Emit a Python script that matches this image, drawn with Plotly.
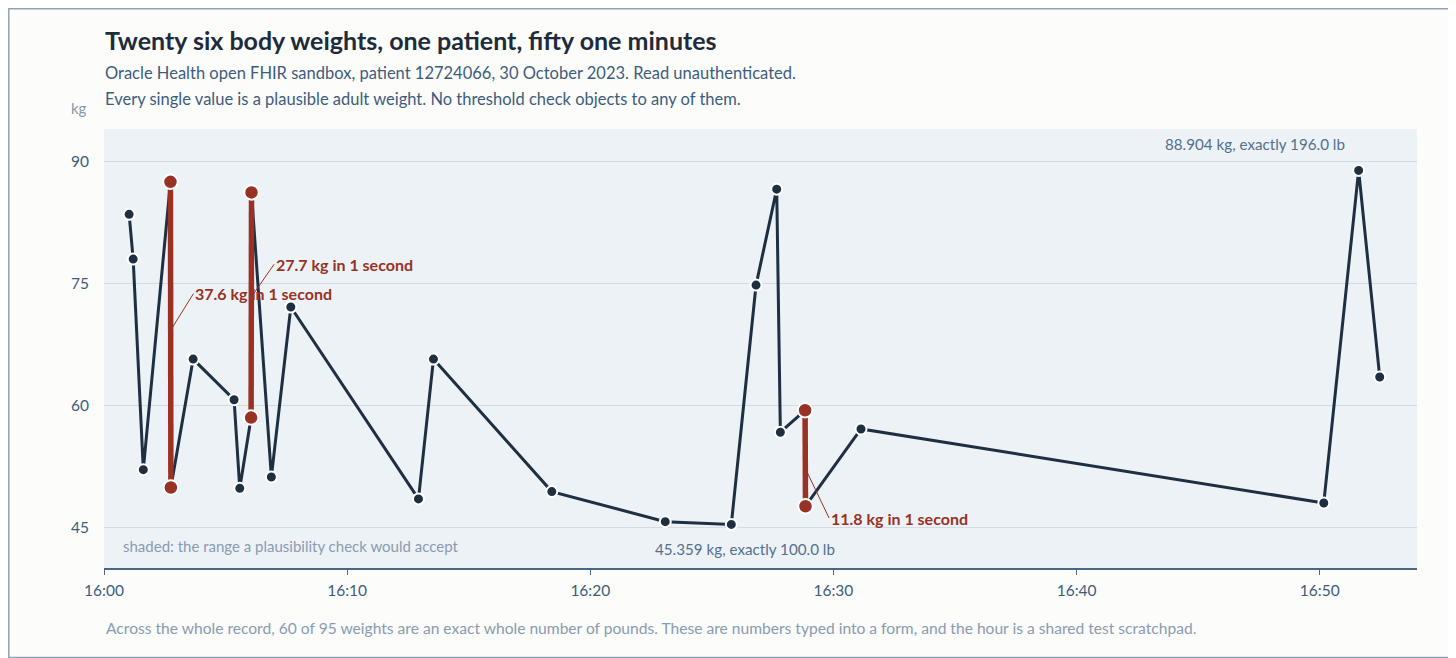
import plotly.graph_objects as go

# ---- DATA ----
day = '2023-10-30'
times = ['16:01:02', '16:01:12', '16:01:37', '16:02:44', '16:02:45', '16:03:40',
         '16:05:21', '16:05:35', '16:06:03', '16:06:04', '16:06:53', '16:07:41',
         '16:12:56', '16:13:33', '16:18:25', '16:23:05', '16:25:48', '16:26:49',
         '16:27:40', '16:27:49', '16:28:50', '16:28:51', '16:31:08', '16:50:10',
         '16:51:36', '16:52:28']
weights_kg = [83.5, 78.0, 52.1, 87.5, 49.9, 65.7,
              60.7, 49.8, 58.5, 86.2, 51.2, 72.1,
              48.5, 65.7, 49.4, 45.7, 45.359, 74.8,
              86.6, 56.7, 59.4, 47.6, 57.1, 48.0,
              88.904, 63.5]
jump_starts = [3, 8, 20]          # index of first reading of each one-second jump
lowest_idx = 16                   # 45.359 kg = 100.0 lb
highest_idx = 24                  # 88.904 kg = 196.0 lb

x_vals = [f'{day} {t}' for t in times]

# ---- STYLE ----
NAVY = '#1f2f42'
RED = '#983224'
BLUE_TXT = '#3d5c7c'
GREY_TXT = '#8798ab'
FONT = 'Lato'

fig = go.Figure()

fig.add_trace(go.Scatter(
    x=x_vals, y=weights_kg, mode='lines+markers',
    line=dict(color=NAVY, width=3),
    marker=dict(size=11, color=NAVY, line=dict(color='white', width=2)),
    hoverinfo='x+y', showlegend=False
))

# red one-second jumps
jx, jy = [], []
for i in jump_starts:
    jx += [x_vals[i], x_vals[i + 1], None]
    jy += [weights_kg[i], weights_kg[i + 1], None]
fig.add_trace(go.Scatter(
    x=jx, y=jy, mode='lines+markers', connectgaps=False,
    line=dict(color=RED, width=5.5),
    marker=dict(size=14.5, color=RED, line=dict(color='white', width=2)),
    showlegend=False
))

annotations = []

# jump labels with leader lines
leader = [(69.2, 23, -37), (73.3, 23, -33), (52.3, 24, 50)]
for i, (ky, ax, ay) in zip(jump_starts, leader):
    diff = abs(weights_kg[i + 1] - weights_kg[i])
    annotations.append(dict(
        x=x_vals[i], y=ky, ax=ax, ay=ay, axref='pixel', ayref='pixel',
        text=f'<b>{diff:.1f} kg in 1 second</b>', showarrow=True,
        arrowhead=0, arrowwidth=1, arrowcolor=RED, xanchor='left',
        font=dict(family=FONT, size=16, color=RED)
    ))

annotations.append(dict(
    x=x_vals[highest_idx], y=weights_kg[highest_idx], xshift=-104, yshift=26,
    text=f'{weights_kg[highest_idx]:.3f} kg, exactly {weights_kg[highest_idx] / 0.45359237:.1f} lb',
    showarrow=False, font=dict(family=FONT, size=15.2, color='#54708d')
))
annotations.append(dict(
    x=x_vals[lowest_idx], y=weights_kg[lowest_idx], xshift=14, yshift=-25,
    text=f'{weights_kg[lowest_idx]:.3f} kg, exactly {weights_kg[lowest_idx] / 0.45359237:.1f} lb',
    showarrow=False, font=dict(family=FONT, size=15.2, color='#54708d')
))

# titles and notes (paper coords)
def paper_text(text, x, y, size, color, xanchor='left', bold=False):
    if bold:
        text = f'<b>{text}</b>'
    annotations.append(dict(
        xref='paper', yref='paper', x=x, y=y, text=text, showarrow=False,
        xanchor=xanchor, yanchor='middle', font=dict(family=FONT, size=size, color=color)
    ))

paper_text('Twenty six body weights, one patient, fifty one minutes', -0.0005, 1.2027, 25, '#1e2b3a', bold=True)
paper_text('Oracle Health open FHIR sandbox, patient 12724066, 30 October 2023. Read unauthenticated.',
           -0.0005, 1.128, 16.5, BLUE_TXT)
paper_text('Every single value is a plausible adult weight. No threshold check objects to any of them.',
           -0.0005, 1.069, 16.5, BLUE_TXT)
paper_text('kg', -0.0112, 1.0486, 15, GREY_TXT, xanchor='right')
paper_text('shaded: the range a plausibility check would accept', 0.013, 0.05, 15, '#8a9bb0')
paper_text('Across the whole record, 60 of 95 weights are an exact whole number of pounds. '
           'These are numbers typed into a form, and the hour is a shared test scratchpad.',
           0.0, -0.1368, 15.6, '#8a9bb0')

# page body adds an 8px offset, so the figure is 8px smaller and shifted
fig.update_layout(
    width=1448, height=650,
    margin=dict(l=96, r=39, t=121, b=90),
    paper_bgcolor='#fcfcfb',
    plot_bgcolor='#edf2f7',
    font=dict(family=FONT, size=15, color=BLUE_TXT),
    annotations=annotations,
    shapes=[dict(type='rect', xref='paper', yref='paper',
                 x0=-0.0725, x1=1.0293, y0=-0.2039, y1=1.2739,
                 line=dict(color='#8ea3b8', width=1.5), layer='below')],
    showlegend=False,
)
fig.update_xaxes(
    type='date', range=[f'{day} 16:00:00', f'{day} 16:54:00'],
    tick0=f'{day} 16:00:00', dtick=600000, tickformat='%H:%M',
    showgrid=False, zeroline=False,
    showline=True, linecolor='#4a6786', linewidth=2,
    ticks='outside', ticklen=5, tickcolor='#4a6786', tickwidth=1,
    tickfont=dict(family=FONT, size=15.5, color=BLUE_TXT),
    ticklabelstandoff=2
)
fig.update_yaxes(
    range=[40, 94], tickvals=[45, 60, 75, 90],
    showgrid=True, gridcolor='#d3dbe4', gridwidth=1,
    zeroline=False, showline=False, ticks='',
    tickfont=dict(family=FONT, size=15.5, color=BLUE_TXT),
    ticklabelstandoff=14
)

fig.write_html('out.html')
